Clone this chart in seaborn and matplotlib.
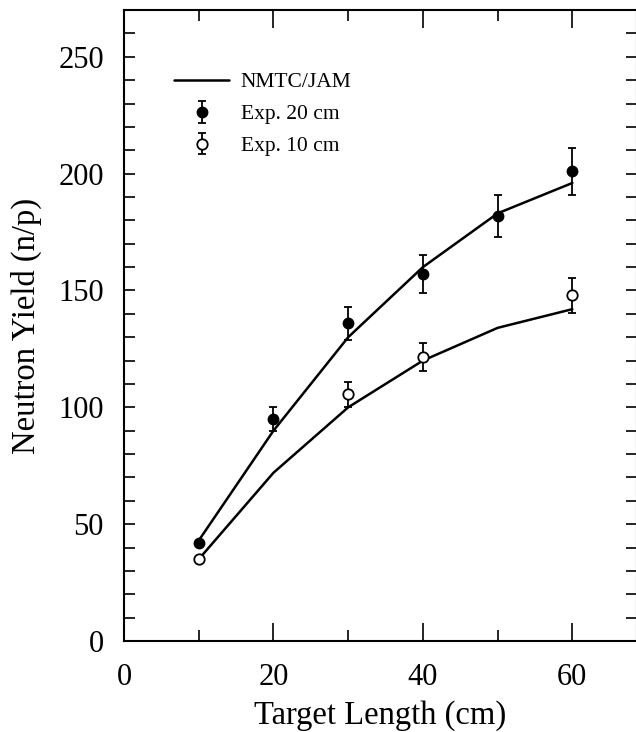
import numpy as np
import matplotlib
matplotlib.use("Agg")
import matplotlib.pyplot as plt
import seaborn as sns
from matplotlib.ticker import MultipleLocator

# NMTC/JAM calculation
calc_x = [10, 20, 30, 40, 50, 60]
calc_20cm = [43, 90, 130, 160, 183, 196]
calc_10cm = [35, 72, 100, 120, 134, 142]

# experiment, 20 cm diameter target
exp20_x = [10, 20, 30, 40, 50, 60]
exp20_y = [42, 95, 136, 157, 182, 201]
exp20_err = [0, 5, 7, 8, 9, 10]

# experiment, 10 cm diameter target
exp10_x = [10, 30, 40, 60]
exp10_y = [35, 105.5, 121.5, 148]
exp10_err = [0, 5.3, 6, 7.5]

sns.set_theme(style="ticks")
plt.rcParams['font.family'] = ['Liberation Serif', 'DejaVu Serif']
plt.rcParams['text.color'] = 'black'
plt.rcParams['axes.labelcolor'] = 'black'

fig = plt.figure(figsize=(6.36, 7.32), dpi=100)
ax = fig.add_axes([0.195, 0.1243, 0.806, 0.862])

sns.lineplot(x=calc_x, y=calc_20cm, ax=ax, color='black', lw=1.8, label='NMTC/JAM')
sns.lineplot(x=calc_x, y=calc_10cm, ax=ax, color='black', lw=1.8)

ax.errorbar(exp20_x, exp20_y, yerr=exp20_err, fmt='o', color='black', ms=7.5,
            mfc='black', mec='black', capsize=3, elinewidth=1.3, capthick=1.3,
            label='Exp. 20 cm', zorder=3)
ax.errorbar(exp10_x, exp10_y, yerr=exp10_err, fmt='o', color='black', ms=7.5,
            mfc='white', mec='black', mew=1.3, capsize=3, elinewidth=1.3,
            capthick=1.3, label='Exp. 10 cm', zorder=3)

ax.set_xlim(0, 68.6)
ax.set_ylim(0, 270)
ax.xaxis.set_major_locator(MultipleLocator(20))
ax.xaxis.set_minor_locator(MultipleLocator(10))
ax.yaxis.set_major_locator(MultipleLocator(50))
ax.yaxis.set_minor_locator(MultipleLocator(10))
ax.tick_params(which='both', direction='in', top=True, right=True,
               labelsize=22, width=1.2, colors='black')
ax.tick_params(axis='x', which='major', length=13, pad=16)
ax.tick_params(axis='x', which='minor', length=8)
ax.tick_params(axis='y', which='both', length=8, pad=14.5)
for s in ax.spines.values():
    s.set_linewidth(1.5)
    s.set_color('black')

ax.set_xlabel('Target Length (cm)', fontsize=23.5, labelpad=6)
ax.set_ylabel('Neutron Yield (n/p)', fontsize=23.5, labelpad=12)

ax.legend(loc='upper left', bbox_to_anchor=(0.06, 0.932), frameon=False,
          fontsize=15.5, handlelength=2.55, handletextpad=0.55, labelspacing=0.55)

fig.savefig('out.png', dpi=100)
